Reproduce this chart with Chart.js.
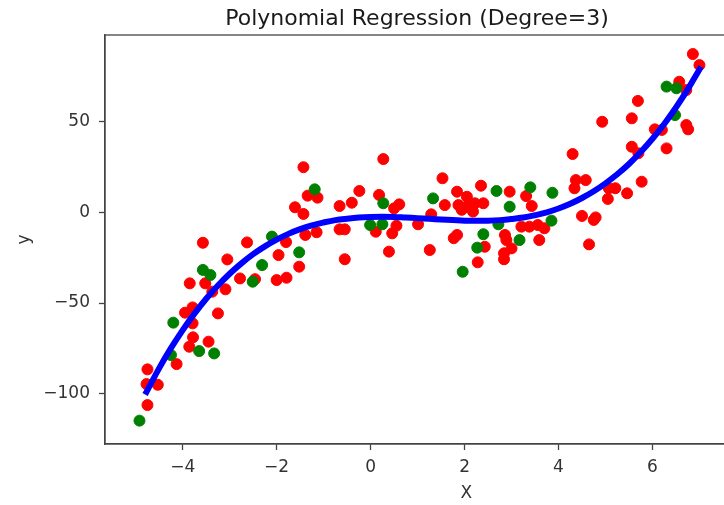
<!DOCTYPE html>
<html>
<head>
<meta charset="utf-8">
<title>Polynomial Regression (Degree=3)</title>
<script src="https://cdn.jsdelivr.net/npm/chart.js@4.4.1/dist/chart.umd.min.js"></script>
<style>
  html, body { margin: 0; padding: 0; background: #fff; overflow: hidden; }
  #wrap { width: 834px; height: 505px; }
</style>
</head>
<body>
<div id="wrap"><canvas id="chart" width="834" height="505"></canvas></div>
<script>
// training points (red)
const trainX = [-4.75, -4.77, -4.53, -4.75, -4.13, -3.86, -3.78, -3.45, -3.95, -3.79,
  -3.79, -3.25, -3.85, -3.52, -3.37, -3.09, -3.57, -3.05, -2.78, -2.63,
  -2.46, -1.96, -2.00, -1.79, -1.80, -1.43, -1.34, -1.13, -1.61, -1.43,
  -1.15, -1.39, -1.52, -0.66, -0.40, -0.24, -0.66, -0.55, -0.55, 0.27,
  0.18, 0.11, 0.39, 0.50, 0.55, 0.61, 0.46, 1.01, 1.26, 1.29,
  1.53, 1.58, 1.84, 2.05, 1.87, 2.05, 2.22, 2.40, 2.35, 2.18,
  1.94, 1.84, 1.77, 2.43, 2.28, 2.96, 2.86, 2.89, 3.00, 2.84,
  2.84, 3.31, 3.43, 3.21, 3.38, 3.56, 3.70, 3.59, 4.30, 4.37,
  4.58, 4.34, 4.50, 4.79, 4.75, 4.65, 6.86, 7.00, 6.57, 6.72,
  6.72, 6.76, 5.69, 4.93, 5.56, 6.05, 6.20, 5.56, 5.70, 6.30,
  5.77, 5.07, 5.21, 5.05, 5.46];
const trainY = [-106.3, -94.7, -95.1, -86.6, -83.7, -74.1, -68.9, -71.3, -55.3, -52.4,
  -61.2, -55.7, -39.1, -39.1, -43.7, -42.4, -16.7, -25.9, -36.4, -16.5,
  -36.8, -23.5, -37.3, -36.0, -16.3, 25.0, 9.3, 8.2, 2.9, -0.8,
  -10.9, -12.4, -29.9, 3.6, 5.4, 11.9, -9.3, -9.3, -25.8, 29.5,
  9.7, -10.6, -21.6, 2.3, -7.3, 4.5, -11.5, -6.5, -20.7, -1.0,
  18.9, 4.1, 11.5, 8.7, 4.1, 3.2, 5.1, 5.1, 14.8, 0.5,
  1.5, -12.4, -14.2, -18.9, -27.5, 11.5, -12.4, -15.2, -19.8, -22.5,
  -25.8, 9.1, 3.6, -7.8, -7.8, -6.9, -8.7, -15.2, 32.3, 17.9,
  17.9, 13.4, -1.9, -2.7, -4.1, -17.6, 87.5, 81.4, 72.2, 67.6,
  48.3, 45.9, 61.6, 50.1, 52.0, 45.9, 45.6, 36.3, 32.7, 35.4,
  17.0, 13.4, 13.4, 7.5, 10.6];

// test points (green)
const testX = [-4.92, -4.25, -4.20, -3.65, -3.33, -3.57, -3.41, -2.51, -2.31, -2.10,
  -1.52, -1.19, -0.01, 0.25, 0.27, 1.33, 2.40, 2.27, 1.96, 2.68,
  2.96, 2.72, 3.40, 3.87, 3.85, 3.17, 6.30, 6.51, 6.48];
const testY = [-114.9, -78.7, -60.8, -76.5, -77.8, -31.7, -34.5, -38.2, -29.0, -13.3,
  -22.0, 12.8, -6.9, -6.5, 5.1, 7.8, -12.0, -19.4, -32.7, 11.9,
  3.2, -6.5, 13.9, 10.9, -4.5, -15.2, 69.5, 68.6, 53.8];

// fitted curve
const curveX = [-4.77, -4.5, -4.25, -4, -3.75, -3.5, -3.25, -3, -2.75, -2.5, -2.25, -2,
  -1.75, -1.5, -1.25, -1, -0.75, -0.5, -0.25, 0, 0.25, 0.5, 0.75, 1,
  1.25, 1.5, 1.75, 2, 2.25, 2.5, 2.75, 3, 3.25, 3.5, 3.75, 4,
  4.25, 4.5, 4.75, 5, 5.25, 5.5, 5.75, 6, 6.25, 6.5, 6.75, 7];
const curveY = [-99.0, -85.9, -74.9, -64.9, -55.8, -47.6, -40.3, -33.8, -28.1, -23.0, -18.7, -15.0,
  -11.8, -9.2, -7.1, -5.5, -4.2, -3.4, -2.8, -2.5, -2.4, -2.5, -2.8, -3.1,
  -3.5, -3.9, -4.2, -4.5, -4.6, -4.5, -4.2, -3.6, -2.8, -1.5, 0.1, 2.2,
  4.8, 8.0, 11.7, 16.1, 21.1, 26.8, 33.4, 40.7, 48.9, 58.0, 68.0, 79.0];

const yTicks = [-100, -50, 0, 50];
const xTicks = [-4, -2, 0, 2, 4, 6];

const FONT = "DejaVu Sans";
const INK = "#333";
const AXIS = "#444";

function toPoints(xs, ys) {
  return xs.map((x, i) => ({ x, y: ys[i] }));
}

function minusSign(v) {
  return String(v).replace("-", "\u2212");
}

// matplotlib draws all four spines, chart.js only left and bottom
const frame = {
  id: "frame",
  afterDraw(chart) {
    const { ctx, chartArea: a } = chart;
    ctx.save();
    ctx.strokeStyle = AXIS;
    ctx.lineWidth = 1.3;
    ctx.strokeRect(a.left, a.top, a.right - a.left, a.bottom - a.top);
    ctx.restore();
  }
};

new Chart(document.getElementById("chart"), {
  type: "scatter",
  data: {
    datasets: [
      {
        label: "fit",
        data: toPoints(curveX, curveY),
        showLine: true,
        borderColor: "#0000ff",
        borderWidth: 6,
        borderCapStyle: "square",
        pointRadius: 0,
        tension: 0.4,
        order: 0
      },
      {
        label: "test",
        data: toPoints(testX, testY),
        backgroundColor: "#008000",
        borderColor: "#008000",
        borderWidth: 1,
        pointRadius: 5.5,
        order: 1
      },
      {
        label: "train",
        data: toPoints(trainX, trainY),
        backgroundColor: "#ff0000",
        borderColor: "#ff0000",
        borderWidth: 1,
        pointRadius: 5.5,
        order: 2
      }
    ]
  },
  options: {
    responsive: false,
    animation: false,
    layout: { padding: 0 },
    plugins: {
      legend: { display: false },
      tooltip: { enabled: false },
      title: {
        display: true,
        text: "Polynomial Regression (Degree=3)",
        color: "#1a1a1a",
        font: { family: FONT, size: 22, weight: "normal", lineHeight: 1.2 },
        padding: { top: 6, bottom: 2.6 }
      }
    },
    scales: {
      x: {
        type: "linear",
        min: -5.654,
        max: 9.726,
        afterFit: s => { s.height = 61; },
        afterBuildTicks: s => { s.ticks = xTicks.map(v => ({ value: v })); },
        ticks: { color: INK, padding: 7, font: { family: FONT, size: 17 }, callback: minusSign },
        grid: { drawOnChartArea: false, tickLength: 6, tickColor: AXIS, tickWidth: 1.3 },
        border: { color: AXIS, width: 1.3 },
        title: { display: true, text: "X", color: INK, font: { family: FONT, size: 17 }, padding: { top: 0, bottom: 1 } }
      },
      y: {
        type: "linear",
        min: -127.8,
        max: 98.0,
        afterFit: s => { s.width = 105; },
        afterBuildTicks: s => { s.ticks = yTicks.map(v => ({ value: v })); },
        ticks: { color: INK, padding: 9, font: { family: FONT, size: 17 }, callback: minusSign },
        grid: { drawOnChartArea: false, tickLength: 6, tickColor: AXIS, tickWidth: 1.3 },
        border: { color: AXIS, width: 1.3 },
        title: { display: true, text: "y", color: INK, font: { family: FONT, size: 17 }, padding: { top: 14, bottom: 0 } }
      }
    }
  },
  plugins: [frame]
});
</script>
</body>
</html>
